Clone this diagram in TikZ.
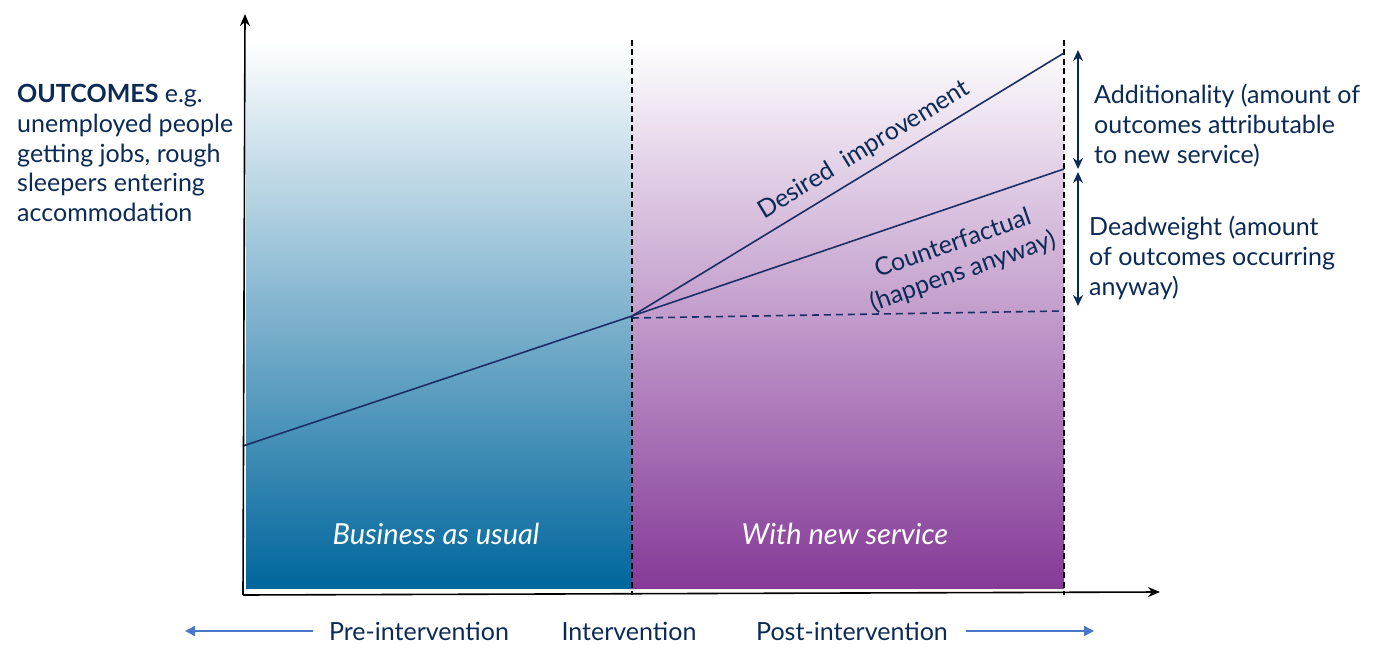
\documentclass[tikz,border=0pt]{standalone}
\usepackage{fontspec}
\setmainfont{Lato}
\usetikzlibrary{arrows.meta}
\definecolor{navy}{HTML}{0B2A55}
\definecolor{linec}{HTML}{1B2E66}
\definecolor{bluebot}{HTML}{00669C}
\definecolor{purpbot}{HTML}{853A98}
\definecolor{arrblue}{HTML}{4A78C8}
\tikzset{
  txt/.style={text=navy, font=\fontsize{25}{29.8}\selectfont, inner sep=0pt},
  curve/.style={draw=linec, line width=1.6pt},
  vdash/.style={draw=black, line width=1.3pt, dash pattern=on 6pt off 3.5pt},
  dbl/.style={draw=navy, line width=1.8pt, {Stealth[length=11pt,width=10pt]}-{Stealth[length=11pt,width=10pt]}},
  axis/.style={draw=black, line width=1.6pt, -{Stealth[length=12pt,width=10pt]}},
  tl/.style={draw=arrblue, line width=1.6pt, -{Triangle[length=10pt,width=10pt]}}
}
\begin{document}
\begin{tikzpicture}[x=1pt,y=-1pt]
\useasboundingbox (0,0) rectangle (1381,660);
% panels
\shade[top color=white, bottom color=bluebot] (246,40) rectangle (632,588);
\shade[top color=white, bottom color=purpbot] (632,40) rectangle (1064,588);
% coordinates
\coordinate (o) at (243,595);
\coordinate (ytop) at (245,14);
\coordinate (xend) at (1160,592);
\coordinate (s0) at (243,446);
\coordinate (p) at (632,316);
\coordinate (d1) at (1064,53);
\coordinate (c1) at (1064,169);
\coordinate (p2) at (632,318);
\coordinate (w1) at (1064,311);
\coordinate (v1t) at (632,40);
\coordinate (v1b) at (632,595);
\coordinate (v2t) at (1064,40);
\coordinate (v2b) at (1064,595);
% dashed verticals
\draw[vdash] (v1t) -- (v1b);
\draw[vdash] (v2t) -- (v2b);
% lines
\draw[curve] (s0) -- (p);
\draw[curve] (p) -- (d1);
\draw[curve] (p) -- (c1);
\draw[curve, dash pattern=on 7pt off 5pt] (p2) -- (w1);
% axes
\draw[axis] (o) -- (ytop);
\draw[axis] (o) -- (xend);
% double arrows
\coordinate (a1t) at (1078,50);
\coordinate (a1b) at (1078,169);
\coordinate (a2t) at (1078,172);
\coordinate (a2b) at (1078,306);
\draw[dbl] (a1t) -- (a1b);
\draw[dbl] (a2t) -- (a2b);
% texts
\node[txt, anchor=north west, align=left] (outc) at (17,84) {\textbf{OUTCOMES} e.g.\\unemployed people\\getting jobs, rough\\sleepers entering\\accommodation};
\node[txt, anchor=north west, align=left] (add) at (1094,84) {Additionality (amount of\\outcomes attributable\\to new service)};
\node[txt, anchor=north west, align=left] (dead) at (1089,216) {Deadweight (amount\\of outcomes occurring\\anyway)};
\node[txt, rotate=31.3] (desired) at (864,150) {Desired\ \ improvement};
\node[txt, rotate=19.5, align=center] (cf) at (958,258) {Counterfactual\\(happens anyway)};
\node[txt, text=white, font=\fontsize{29}{30}\selectfont\itshape] (bau) at (436,534) {Business as usual};
\node[txt, text=white, font=\fontsize{29}{30}\selectfont\itshape] (wns) at (845,534) {With new service};
\node[txt] (pre) at (419,631) {Pre-intervention};
\node[txt] (int) at (629,631) {Intervention};
\node[txt] (post) at (852,631) {Post-intervention};
\coordinate (la) at (185,631);
\coordinate (ra) at (1094,631);
\draw[tl] ([xshift=-16pt]pre.west) -- (la);
\draw[tl] ([xshift=18pt]post.east) -- (ra);
\end{tikzpicture}
\end{document}
